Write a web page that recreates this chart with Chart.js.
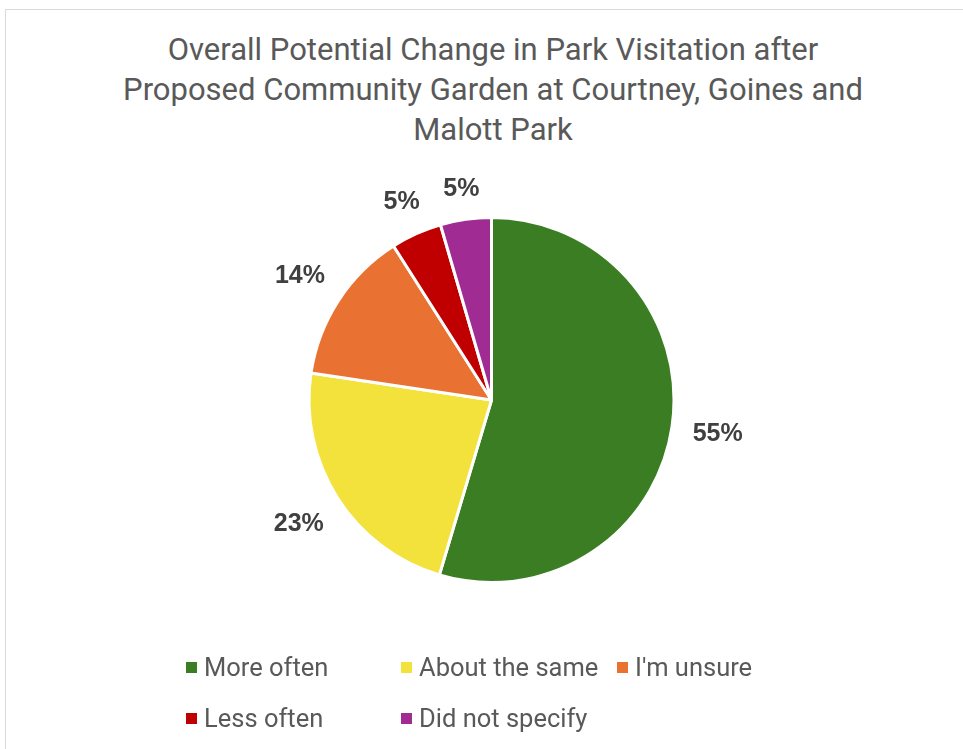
<!DOCTYPE html>
<html>
<head>
<meta charset="utf-8">
<script src="https://cdn.jsdelivr.net/npm/chart.js@4/dist/chart.umd.min.js"></script>
<style>
  body { margin: 0; background: #fff; }
  #wrap { position: relative; width: 963px; height: 749px; overflow: hidden; }
  #frame { position: absolute; left: 5px; top: 9px; width: 1000px; height: 800px; border: 1px solid #d9d9d9; box-sizing: border-box; }
  #title { position: absolute; left: 0; top: 30px; width: 986px; text-align: center;
    font-family: "Roboto", sans-serif; font-size: 31px; line-height: 40px; color: #595959; }
  canvas { position: absolute; left: 0; top: 0; }
  .lg { position: absolute; font-family: "Roboto", sans-serif; font-size: 25.5px; line-height: 30px; color: #595959; white-space: nowrap; }
  .lg i { position: absolute; left: -18px; top: 50%; width: 11px; height: 11px; margin-top: -5px; }
</style>
</head>
<body>
<div id="wrap">
  <div id="frame"></div>
  <div id="title">Overall Potential Change in Park Visitation after<br>Proposed Community Garden at Courtney, Goines and<br>Malott Park</div>
  <canvas id="myChart" width="963" height="749"></canvas>
  <div id="legend"></div>
</div>
<script>
const categories = ['More often', 'About the same', "I'm unsure", 'Less often', 'Did not specify'];
const shares = [54.5, 22.7, 13.6, 4.5, 4.5];
const colors = ['#3b7d23', '#f2e23b', '#e97132', '#c00000', '#a02b93'];

// legend slots (Excel-style wrapped legend)
const legendSpots = [[204, 652], [419, 652], [635, 652], [204, 703], [419, 703]];
const legendDiv = document.getElementById('legend');
categories.forEach((name, i) => {
    const d = document.createElement('div');
    d.className = 'lg';
    d.style.left = legendSpots[i][0] + 'px';
    d.style.top = legendSpots[i][1] + 'px';
    d.innerHTML = '<i style="background:' + colors[i] + '"></i>' + name;
    legendDiv.appendChild(d);
});

// percent labels outside each slice, label box kept a fixed gap off the rim
const outsideLabels = {
    id: 'outsideLabels',
    afterDatasetsDraw(chart) {
        const ctx = chart.ctx;
        const meta = chart.getDatasetMeta(0);
        ctx.save();
        ctx.font = 'bold 25px "Liberation Sans", Arial, sans-serif';
        ctx.fillStyle = '#404040';
        ctx.textAlign = 'center';
        ctx.textBaseline = 'middle';
        meta.data.forEach((arc, i) => {
            const txt = Math.round(shares[i]) + '%';
            const w = ctx.measureText(txt).width;
            const h = 18;
            const mid = (arc.startAngle + arc.endAngle) / 2;
            const c = Math.cos(mid), s = Math.sin(mid);
            const r = arc.outerRadius + 20 + Math.abs(c) * w / 2 + Math.abs(s) * h / 2;
            ctx.fillText(txt, arc.x + c * r, arc.y + s * r + 1);
        });
        ctx.restore();
    }
};

const ctx = document.getElementById('myChart').getContext('2d');
const chart = new Chart(ctx, {
    type: 'pie',
    data: {
        labels: categories,
        datasets: [{
            data: shares,
            backgroundColor: colors,
            borderColor: '#ffffff',
            borderWidth: 3
        }]
    },
    options: {
        responsive: false,
        animation: false,
        layout: { padding: { top: 216, bottom: 165, left: 307, right: 287 } },
        plugins: {
            legend: { display: false },
            title: { display: false },
            tooltip: { enabled: false }
        }
    },
    plugins: [outsideLabels]
});
</script>
</body>
</html>
